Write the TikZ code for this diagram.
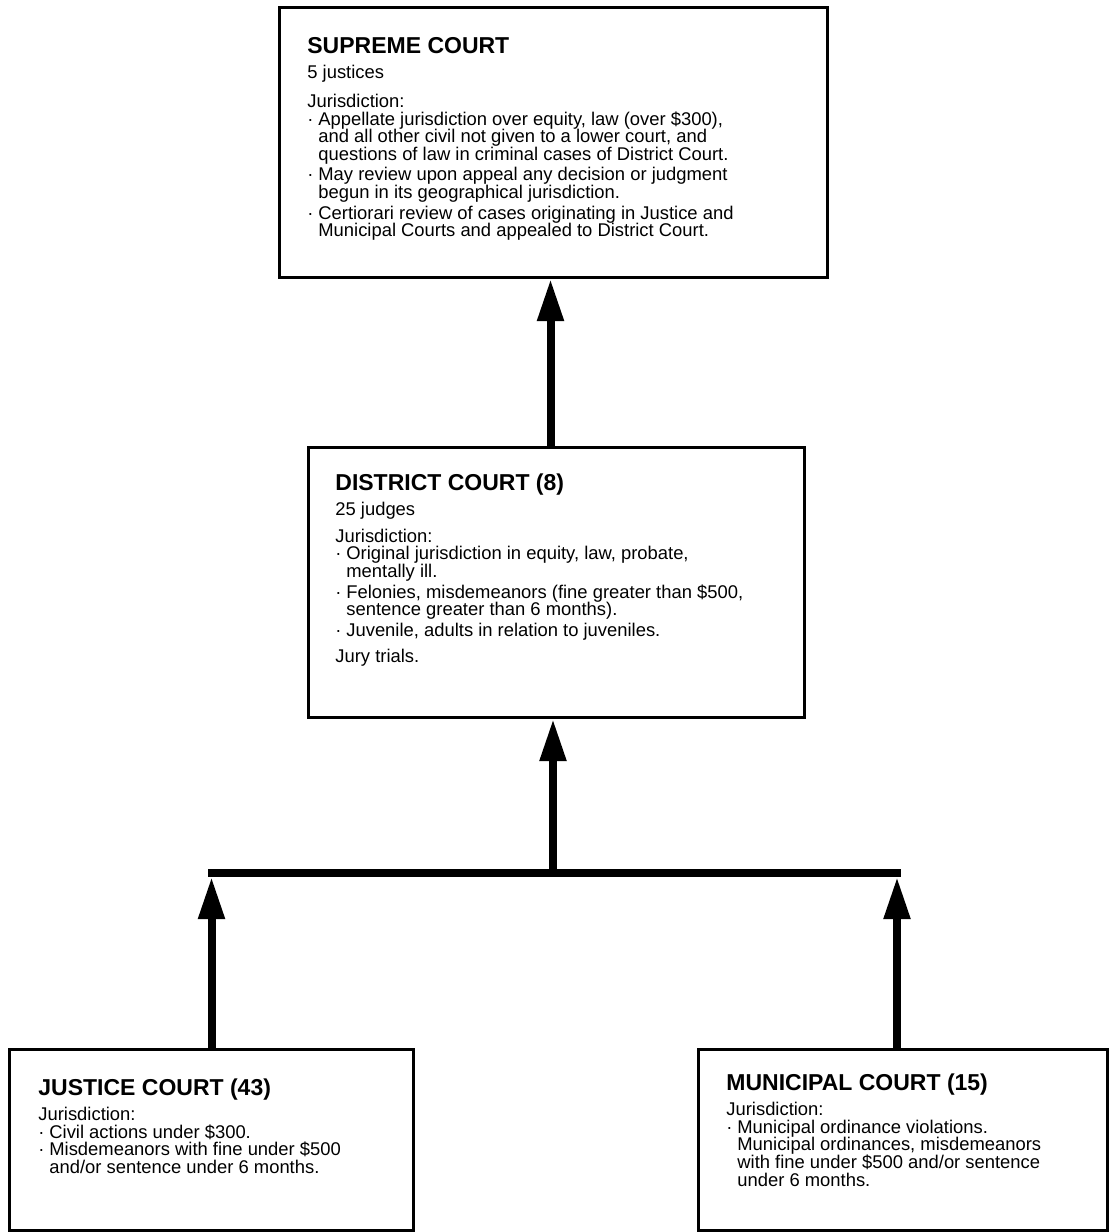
\documentclass[tikz,border=0pt]{standalone}
\usepackage{fontspec}
\setmainfont{Liberation Sans}
\usetikzlibrary{arrows.meta}
\tikzstyle{court} = [draw, line width=1.5pt, anchor=north west, inner sep=0pt]
\tikzstyle{info} = [anchor=north west, align=left, inner sep=0pt, font=\fontsize{9.2}{8.8}\selectfont]
\tikzstyle{link} = [line width=4pt, -{Triangle[length=21pt, width=12.5pt]}]
\tikzstyle{joinline} = [line width=4pt, line cap=rect]
\newcommand{\courtname}[1]{{\fontsize{11.5}{13}\selectfont\bfseries #1}}
\newcommand{\bul}{\makebox[5.5pt][l]{·}}
\newcommand{\ind}{\hspace*{5.5pt}}

\begin{document}
\begin{tikzpicture}[x=0.5pt, y=-0.5pt]
    \useasboundingbox (0,0) rectangle (1111,1232);
    \draw (278,6) node[court, minimum width=274pt, minimum height=135pt] (supreme) {};
    \draw (307,446) node[court, minimum width=248pt, minimum height=135pt] (district) {};
    \draw (8,1048) node[court, minimum width=202pt, minimum height=90.5pt] (justice) {};
    \draw (697,1048) node[court, minimum width=204.5pt, minimum height=90.5pt] (municipal) {};
    \draw (307,37) node[info] (supremetext) {\courtname{SUPREME COURT}\\[3.6pt]
        5 justices\\[5.8pt]
        Jurisdiction:\\
        \bul Appellate jurisdiction over equity, law (over \$300),\\
        \ind and all other civil not given to a lower court, and\\
        \ind questions of law in criminal cases of District Court.\\[1.5pt]
        \bul May review upon appeal any decision or judgment\\
        \ind begun in its geographical jurisdiction.\\[1.5pt]
        \bul Certiorari review of cases originating in Justice and\\
        \ind Municipal Courts and appealed to District Court.};
    \draw (335,473) node[info] (districttext) {\courtname{DISTRICT COURT (8)}\\[2.8pt]
        25 judges\\[4.5pt]
        Jurisdiction:\\
        \bul Original jurisdiction in equity, law, probate,\\
        \ind mentally ill.\\[1.5pt]
        \bul Felonies, misdemeanors (fine greater than \$500,\\
        \ind sentence greater than 6 months).\\[1.5pt]
        \bul Juvenile, adults in relation to juveniles.\\[4.5pt]
        Jury trials.};
    \draw (38,1078) node[info] (justicetext) {\courtname{JUSTICE COURT (43)}\\[2.8pt]
        Jurisdiction:\\
        \bul Civil actions under \$300.\\
        \bul Misdemeanors with fine under \$500\\
        \ind and/or sentence under 6 months.};
    \draw (726,1073) node[info] (municipaltext) {\courtname{MUNICIPAL COURT (15)}\\[2.8pt]
        Jurisdiction:\\
        \bul Municipal ordinance violations.\\
        \ind Municipal ordinances, misdemeanors\\
        \ind with fine under \$500 and/or sentence\\
        \ind under 6 months.};
    \coordinate (join) at (553,873);
    \coordinate (joinL) at (justice.north |- join);
    \coordinate (joinR) at ([xshift=-3pt]municipal.north |- join);
    \draw [link] ([xshift=-3pt]district.north) -- ([xshift=-3pt]district.north |- supreme.south);
    \draw [link] (join) -- (join |- district.south);
    \draw [joinline] (joinL) -- (joinR);
    \draw [link, shorten >=2pt] (justice.north) -- (joinL);
    \draw [link, shorten >=2pt] ([xshift=-3pt]municipal.north) -- (joinR);
\end{tikzpicture}
\end{document}
